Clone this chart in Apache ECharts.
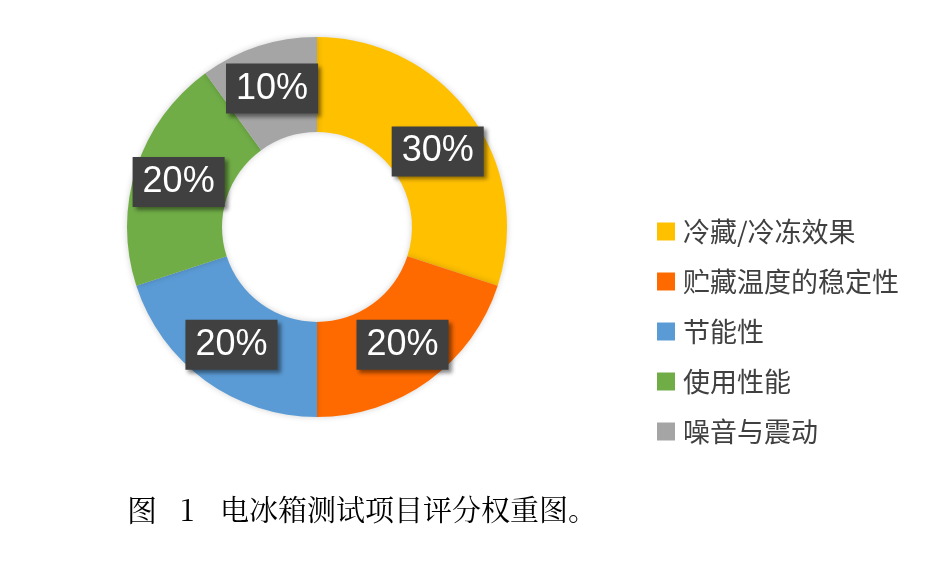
<!DOCTYPE html>
<html>
<head>
<meta charset="utf-8">
<script src="https://cdn.jsdelivr.net/npm/echarts@6/dist/echarts.min.js"></script>
<style>
  html, body { margin: 0; padding: 0; background: #fff; }
  #chart { width: 936px; height: 588px; }
</style>
</head>
<body>
<div id="chart"></div>
<script>
// 评分项目与权重 (%)
var categories = ['冷藏/冷冻效果', '贮藏温度的稳定性', '节能性', '使用性能', '噪音与震动']
var weights = [30, 20, 20, 20, 10]
var colors = ['#FFC000', '#FF6A00', '#5B9BD5', '#70AD47', '#A5A5A5']
var captionNo = '图   1'
var caption = '电冰箱测试项目评分权重图。'

var chart = echarts.init(document.getElementById('chart'))

var pieData = categories.map(function (name, i) {
    var item = {name: name, value: weights[i], itemStyle: {color: colors[i]}}
    // 第一块的标签在原图里略靠外
    if (i === 0) item.label = {offset: [3, 10]}
    return item
})

var captionFont = '"Noto Serif CJK SC", serif, "Noto Sans CJK SC"'

var option = {
    animation: false,
    backgroundColor: '#fff',
    legend: {
        orient: 'vertical',
        left: 657,
        top: 218,
        padding: 0,
        icon: 'rect',
        itemWidth: 18,
        itemHeight: 18,
        itemGap: 23,
        data: categories,
        textStyle: {
            fontSize: 27,
            lineHeight: 27,
            color: '#404040',
            fontFamily: '"Noto Sans CJK SC", sans-serif',
            padding: [0, 0, 0, 3]
        }
    },
    series: [{
        type: 'pie',
        center: [317, 227],
        radius: [95, 190],
        startAngle: 90,
        clockwise: true,
        emphasis: {disabled: true},
        itemStyle: {
            shadowBlur: 6,
            shadowColor: 'rgba(0,0,0,0.18)'
        },
        label: {
            show: true,
            position: 'inside',
            formatter: '{c}%',
            color: '#fff',
            fontSize: 36,
            fontFamily: '"Liberation Sans", Arial, sans-serif',
            backgroundColor: '#404040',
            padding: [8, 10, 6, 10],
            shadowBlur: 4,
            shadowOffsetX: 3,
            shadowOffsetY: 3,
            shadowColor: 'rgba(0,0,0,0.45)'
        },
        labelLine: {show: false},
        data: pieData
    }],
    graphic: [{
        type: 'text',
        left: 127,
        top: 495,
        style: {text: captionNo, fontSize: 30, fill: '#000', fontFamily: captionFont}
    }, {
        type: 'text',
        left: 220,
        top: 495,
        style: {text: caption, fontSize: 29, fill: '#000', fontFamily: captionFont}
    }]
}

chart.setOption(option)
</script>
</body>
</html>
